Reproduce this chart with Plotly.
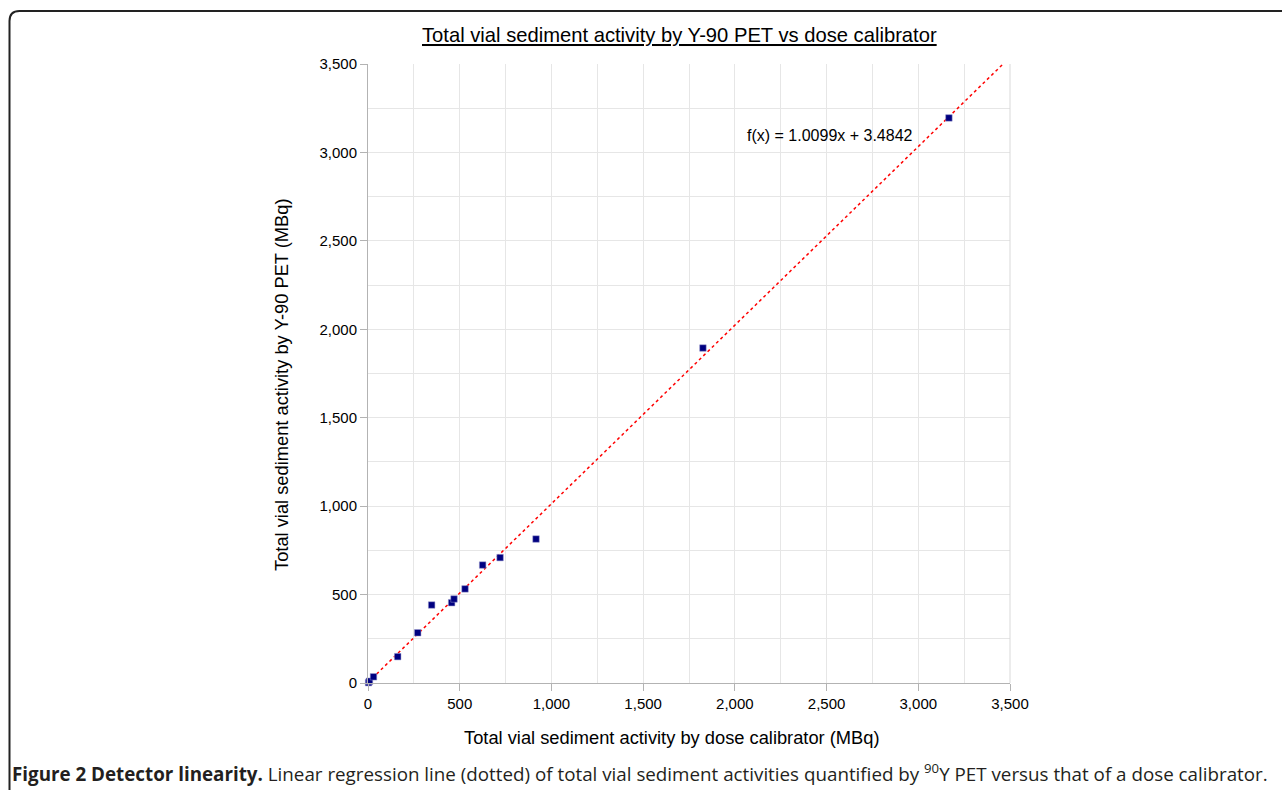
import plotly.graph_objects as go

# Data
dose_calibrator_mbq = [3, 8, 30, 162, 271, 347, 456, 469, 529, 625, 720, 916, 1826, 3167]
y90_pet_mbq = [2, 10, 35, 149, 284, 441, 454, 475, 532, 667, 709, 814, 1894, 3195]
slope = 1.0099
intercept = 3.4842
x_ticks = [0, 500, 1000, 1500, 2000, 2500, 3000, 3500]
y_ticks = [0, 500, 1000, 1500, 2000, 2500, 3000, 3500]

W, H = 1282, 790
px0, px1 = 368, 1010
py_top, py_bot = 64, 683

fit_x = [0, 3500]
fit_y = [slope * v + intercept for v in fit_x]

fig = go.Figure()
fig.add_trace(go.Scatter(
    x=fit_x, y=fit_y, mode="lines",
    line=dict(color="#ff0000", width=1.5, dash="dot"),
    showlegend=False, hoverinfo="skip",
))
fig.add_trace(go.Scatter(
    x=dose_calibrator_mbq, y=y90_pet_mbq, mode="markers",
    marker=dict(symbol="square", size=6.5, color="#000080",
                line=dict(color="#9999cc", width=0.5)),
    showlegend=False, cliponaxis=False,
))

axis_common = dict(
    range=[0, 3500], tickmode="array", tickformat=",", automargin=False,
    showgrid=True, gridcolor="#e6e6e6", gridwidth=1,
    minor=dict(dtick=250, showgrid=True, gridcolor="#e6e6e6", gridwidth=1),
    showline=True, linecolor="#b3b3b3", linewidth=1,
    ticks="outside", ticklen=7, tickcolor="#b3b3b3",
    tickfont=dict(family="Liberation Sans", size=15, color="#000000"),
    zeroline=False, mirror=False,
)

fig.update_layout(
    width=W, height=H,
    margin=dict(l=0, r=0, t=0, b=0),
    paper_bgcolor="white", plot_bgcolor="white",
    xaxis=dict(domain=[px0 / W, px1 / W], tickvals=x_ticks, **axis_common),
    yaxis=dict(domain=[1 - py_bot / H, 1 - py_top / H], tickvals=y_ticks, **axis_common),
)

# right plot frame (light gray)
fig.add_shape(type="line", xref="paper", yref="paper",
              x0=px1 / W, x1=px1 / W, y0=1 - py_bot / H, y1=1 - py_top / H,
              line=dict(color="#d9d9d9", width=1))

# outer rounded frame (cut off at right and bottom)
fx0, fy0, r = 9.5 / W, 1 - 11 / H, 10
path = (f"M {fx0},{-0.05} L {fx0},{1 - (11 + r) / H} "
        f"Q {fx0},{fy0} {(9.5 + r) / W},{fy0} L 1.05,{fy0}")
fig.add_shape(type="path", xref="paper", yref="paper", path=path,
              line=dict(color="#222222", width=2))

font_ch = "Liberation Sans"
def label(x, y, text, size, family=font_ch, color="#000000", **kw):
    opts = dict(xanchor="center", yanchor="middle")
    opts.update(kw)
    fig.add_annotation(xref="paper", yref="paper", x=x / W, y=1 - y / H, text=text,
                       showarrow=False, font=dict(family=family, size=size, color=color), **opts)

label(679, 35, "<u>Total vial sediment activity by Y-90 PET vs dose calibrator</u>", 20.2)
label(672, 737, "Total vial sediment activity by dose calibrator (MBq)", 18.3)
label(282, 385, "Total vial sediment activity by Y-90 PET (MBq)", 18.3, textangle=-90)
label(830, 135, f"f(x) = {slope}x + {intercept}", 16)
label(10, 773, "<b>Figure 2 Detector linearity.</b> Linear regression line (dotted) of total vial "
               "sediment activities quantified by <sup>90</sup>Y PET versus that of a dose calibrator.",
      18.8, family="Open Sans", color="#231f20", xanchor="left")

fig.write_html("out.html",
               post_script="document.body.style.margin='0';document.body.style.overflow='hidden';",
               config={"displayModeBar": False})
